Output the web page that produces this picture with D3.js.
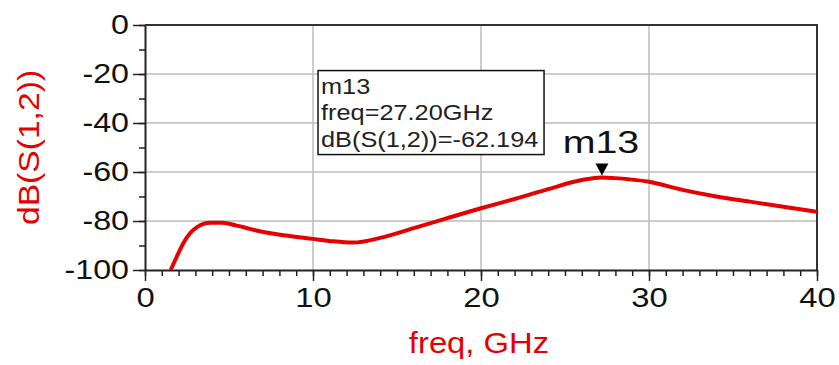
<!DOCTYPE html>
<html>
<head>
<meta charset="utf-8">
<script src="https://cdn.jsdelivr.net/npm/d3@7/dist/d3.min.js"></script>
<style>
body{margin:0;background:#fff;}
text{font-family:Arial,"Liberation Sans",sans-serif;}
</style>
</head>
<body>
<div id="chart"></div>
<script>
// S12 sweep
var freqs = [1.53, 1.89, 2.28, 2.68, 3.08, 3.47, 3.9, 4.6, 5.46, 6.25, 7.04, 7.84, 10, 11.2, 12.4, 14, 16, 18, 20, 22, 24, 26, 27.2, 28, 30, 32, 34, 36, 38, 40];
var s12db = [-100, -94.6, -89.1, -85, -82.6, -81.2, -80.7, -80.7, -81.9, -83.2, -84.5, -85.4, -87.3, -88.3, -88.8, -86.9, -82.9, -78.8, -74.8, -71, -67, -63.3, -62.194, -62.5, -64, -67.3, -70, -72.1, -74.2, -76.2];
var xTicks = [0, 10, 20, 30, 40];
var yTicks = [-100, -80, -60, -40, -20, 0];
var markerName = "m13";
var markerFreq = 27.2;
var markerVal = -62.194;

var margin = {top: 25, right: 22, bottom: 95, left: 145},
    width = 839 - margin.left - margin.right,
    height = 365 - margin.top - margin.bottom;

var red = "#e60000";

// glyphs in the original are drawn a little wider than Arial
function widen(sel, k) {
	sel.each(function() {
		var w = this.getComputedTextLength();
		d3.select(this).attr("textLength", w * k).attr("lengthAdjust", "spacingAndGlyphs");
	});
}

var svg = d3.select("#chart").append("svg")
	.attr("width", 839)
	.attr("height", 365)
	.append("g")
	.attr("transform", "translate(" + margin.left + "," + margin.top + ")");

var x = d3.scaleLinear().domain([0, 40]).range([0, width]);
var y = d3.scaleLinear().domain([-100, 0]).range([height, 0]);

// grid
svg.append("g").selectAll("line.gx")
	.data(xTicks.slice(1, -1))
	.enter().append("line")
	.attr("x1", function(d) { return x(d); }).attr("x2", function(d) { return x(d); })
	.attr("y1", 0).attr("y2", height)
	.attr("stroke", "#bdbdbd").attr("stroke-width", 1.5);
svg.append("g").selectAll("line.gy")
	.data(yTicks.slice(1, -1))
	.enter().append("line")
	.attr("x1", 0).attr("x2", width)
	.attr("y1", function(d) { return y(d); }).attr("y2", function(d) { return y(d); })
	.attr("stroke", "#bdbdbd").attr("stroke-width", 1.5);

// frame top / right
svg.append("path")
	.attr("d", "M0,0H" + width + "V" + height)
	.attr("fill", "none").attr("stroke", "#333").attr("stroke-width", 2);

// minor ticks
var xMinor = d3.range(0, 41, 1);
var yMinor = d3.range(-100, 1, 10);
svg.append("g")
	.attr("transform", "translate(0," + height + ")")
	.call(d3.axisBottom(x).tickValues(xMinor).tickSize(6).tickFormat(""))
	.call(function(g) { g.select(".domain").remove(); g.selectAll("line").attr("stroke", "#222").attr("stroke-width", 1.5); });
svg.append("g")
	.call(d3.axisLeft(y).tickValues(yMinor).tickSize(6).tickFormat(""))
	.call(function(g) { g.select(".domain").remove(); g.selectAll("line").attr("stroke", "#222").attr("stroke-width", 1.5); });

// major axes, plain hyphen for the minus sign
var plain = function(d) { return String(d); };
var xAxis = svg.append("g")
	.attr("transform", "translate(0," + height + ")")
	.call(d3.axisBottom(x).tickValues(xTicks).tickFormat(plain).tickSize(11).tickSizeOuter(0).tickPadding(6));
var yAxis = svg.append("g")
	.call(d3.axisLeft(y).tickValues(yTicks).tickFormat(plain).tickSize(12).tickSizeOuter(0).tickPadding(4));

[xAxis, yAxis].forEach(function(g) {
	g.select(".domain").attr("stroke", "#222").attr("stroke-width", 2);
	g.selectAll(".tick line").attr("stroke", "#222").attr("stroke-width", 1.5);
	g.selectAll(".tick text")
		.attr("fill", "#111")
		.style("font-size", "28px")
		.style("font-family", "Arial, 'Liberation Sans', sans-serif");
});
xAxis.selectAll(".tick text").attr("dy", "0.72em");
widen(xAxis.selectAll(".tick text"), 1.17);
widen(yAxis.selectAll(".tick text"), 1.15);

// axis titles
var xt = svg.append("text")
	.attr("x", width / 2 - 2)
	.attr("y", height + 83)
	.attr("text-anchor", "middle")
	.attr("fill", red)
	.style("font-size", "29px")
	.text("freq, GHz");
widen(xt, 1.13);

var yt = svg.append("text")
	.attr("transform", "translate(" + (-margin.left + 39) + "," + (y(-50)) + ") rotate(-90)")
	.attr("text-anchor", "middle")
	.attr("fill", red)
	.style("font-size", "29px")
	.text("dB(S(1,2))");
widen(yt, 1.16);

// curve
svg.append("clipPath").attr("id", "plotclip")
	.append("rect").attr("width", width).attr("height", height);

var pts = freqs.map(function(f, i) { return [f, s12db[i]]; });
var line = d3.line()
	.x(function(d) { return x(d[0]); })
	.y(function(d) { return y(d[1]); })
	.curve(d3.curveMonotoneX);

svg.append("path")
	.datum(pts)
	.attr("clip-path", "url(#plotclip)")
	.attr("d", line)
	.attr("fill", "none")
	.attr("stroke", red)
	.attr("stroke-width", 4)
	.attr("stroke-linejoin", "round");

// marker
var mx = x(markerFreq), my = y(markerVal);
svg.append("path")
	.attr("d", "M" + (mx - 6.5) + "," + (my - 14) + "L" + (mx + 6.5) + "," + (my - 14) + "L" + mx + "," + (my - 2) + "Z")
	.attr("fill", "#000");
var ml = svg.append("text")
	.attr("x", mx - 1)
	.attr("y", my - 24)
	.attr("text-anchor", "middle")
	.attr("fill", "#111")
	.style("font-size", "31px")
	.text(markerName);
widen(ml, 1.27);

// marker readout box
var bx = x(10.3), by = y(-18.6);
svg.append("rect")
	.attr("x", bx).attr("y", by)
	.attr("width", 226).attr("height", 84)
	.attr("fill", "#fff").attr("stroke", "#111").attr("stroke-width", 1.5);

var lines = [markerName, "freq=" + markerFreq.toFixed(2) + "GHz", "dB(S(1,2))=" + markerVal.toFixed(3)];
var boxText = svg.selectAll(".readout")
	.data(lines)
	.enter().append("text")
	.attr("class", "readout")
	.attr("x", bx + 3)
	.attr("y", function(d, i) { return by + 23 + i * 26.5; })
	.attr("fill", "#222")
	.style("font-size", "22px")
	.text(function(d) { return d; });
widen(boxText, 1.15);
</script>
</body>
</html>
